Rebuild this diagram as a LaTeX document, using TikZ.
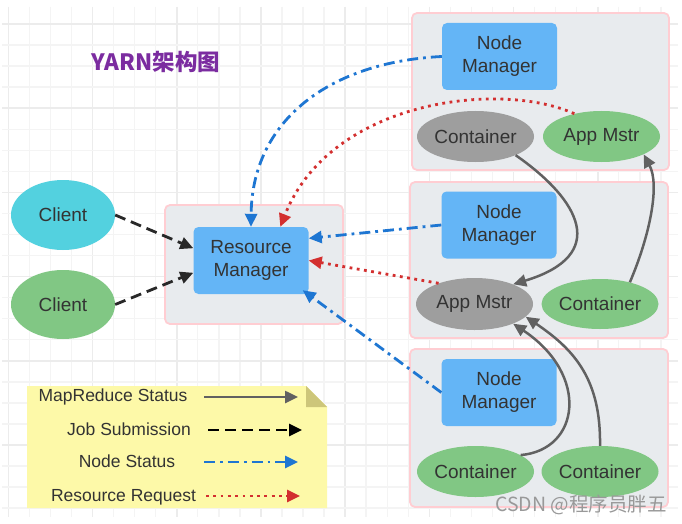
\documentclass[tikz,border=0pt]{standalone}
\usepackage{fontspec}
\setmainfont{Liberation Sans}
\newfontfamily\cjk{Noto Sans CJK SC}
\usepackage{tikz}
\usetikzlibrary{shapes.geometric, arrows.meta}

\definecolor{nmblue}{RGB}{100,181,246}
\definecolor{cyanclient}{RGB}{83,209,223}
\definecolor{greenoval}{RGB}{129,199,132}
\definecolor{grayoval}{RGB}{158,158,158}
\definecolor{grpfill}{RGB}{232,235,238}
\definecolor{grpline}{RGB}{255,205,210}
\definecolor{txt}{RGB}{51,51,51}
\definecolor{mrgray}{RGB}{97,97,97}
\definecolor{jobblack}{RGB}{40,40,40}
\definecolor{nsblue}{RGB}{30,118,210}
\definecolor{rrred}{RGB}{211,47,47}
\definecolor{noteyellow}{RGB}{253,249,168}
\definecolor{notefold}{RGB}{205,198,122}
\definecolor{titlepurple}{RGB}{123,44,160}
\definecolor{gridminor}{RGB}{244,244,244}
\definecolor{gridmajor}{RGB}{236,236,236}

\begin{document}
\begin{tikzpicture}[x=1pt, y=-1pt,
    grp/.style={draw=grpline, fill=grpfill, line width=1.8pt, rounded corners=5pt},
    mgr/.style={fill=nmblue, rounded corners=5pt, minimum width=115pt, minimum height=67pt,
      inner sep=0pt, align=center, text=txt, font=\fontsize{19}{23}\selectfont},
    oval/.style={ellipse, minimum width=117pt, minimum height=51pt, inner sep=0pt,
      text=txt, font=\fontsize{19}{23}\selectfont},
    legtext/.style={text=txt, font=\fontsize{17.5}{20}\selectfont},
    mrflow/.style={draw=mrgray, line width=2.5pt, -{Triangle[length=13pt,width=12pt]}},
    jobflow/.style={draw=jobblack, line width=2.8pt, dash pattern=on 11pt off 6pt,
      -{Triangle[length=13pt,width=12pt]}},
    nsflow/.style={draw=nsblue, line width=2.8pt, dash pattern=on 11pt off 5pt on 2.8pt off 5pt,
      -{Triangle[length=13pt,width=12pt]}},
    rrflow/.style={draw=rrred, line width=2.8pt, dash pattern=on 2.8pt off 4.5pt,
      -{Triangle[length=13pt,width=12pt]}},
  ]
    \useasboundingbox (0,0) rectangle (682,524);
    \fill[white] (0,0) rectangle (682,524);

    % background grid
    \foreach \i in {0,...,31} {
      \pgfmathtruncatemacro{\major}{mod(\i,4)==0}
      \ifnum\major=1
        \draw[gridmajor, line width=1.6pt] ({8.3+21.05*\i},7) -- ({8.3+21.05*\i},517);
      \else
        \draw[gridminor, line width=1.4pt] ({8.3+21.05*\i},7) -- ({8.3+21.05*\i},517);
      \fi
    }
    \foreach \j in {0,...,23} {
      \pgfmathtruncatemacro{\major}{mod(\j,4)==0}
      \ifnum\major=1
        \draw[gridmajor, line width=1.6pt] (2,{24+21.05*\j}) -- (678,{24+21.05*\j});
      \else
        \draw[gridminor, line width=1.4pt] (2,{24+21.05*\j}) -- (678,{24+21.05*\j});
      \fi
    }

    \node[text=titlepurple, font=\cjk\bfseries\fontsize{22.5}{26}\selectfont] (title) at (156,62) {YARN架构图};

    % groups
    \draw[grp] (165,205) rectangle (343,324);
    \draw[grp] (412,13) rectangle (669,170);
    \draw[grp] (410,182) rectangle (668,338);
    \draw[grp] (410,349) rectangle (668,507);

    \node[oval, fill=cyanclient, minimum width=104pt, minimum height=70pt] (cliA) at (63,215) {Client};
    \node[oval, fill=greenoval, minimum width=104pt, minimum height=69pt] (cliB) at (63,304.5) {Client};

    \node[mgr] (rm) at (251,260.5) {Resource\\Manager};

    \node[mgr] (nmA) at (499.5,56.5) {Node\\Manager};
    \node[oval, fill=grayoval] (ctA) at (475.5,136.5) {Container};
    \node[oval, fill=greenoval] (amA) at (601.5,136.5) {App Mstr};

    \node[mgr] (nmB) at (499,225) {Node\\Manager};
    \node[oval, fill=grayoval, minimum height=52pt] (amB) at (474.5,304) {App Mstr};
    \node[oval, fill=greenoval, minimum height=50pt] (ctB) at (600,304) {Container};

    \node[mgr] (nmC) at (499,392.5) {Node\\Manager};
    \node[oval, fill=greenoval] (ctC) at (475.5,471.5) {Container};
    \node[oval, fill=greenoval] (ctD) at (600,471.5) {Container};

    % job submission
    \draw[jobflow] (cliA.east) -- (rm.168);
    \draw[jobflow] (cliB.east) -- (rm.192);

    % node status
    \draw[nsflow] (nmA.west) .. controls (330,62) and (252,120) .. (rm.north);
    \draw[nsflow] (nmB.west) -- (rm.21);
    \draw[nsflow] (nmC.west) -- ([xshift=-6pt,yshift=4pt]rm.south east);

    % resource request
    \draw[rrflow] (amA.140) .. controls (500,80) and (330,100) .. (rm.49);
    \draw[rrflow] (amB.150) -- (rm.east);

    % mapreduce status
    \draw[mrflow] (ctA.-25) .. controls (580,200) and (610,255) .. (amB.27);
    \draw[mrflow] (ctB.36) .. controls (650,235) and (660,185) .. (amA.-23);
    \draw[mrflow] (ctC.20) .. controls (580,450) and (590,375) .. (amB.-27);
    \draw[mrflow] (ctD.north) .. controls (601,380) and (575,350) .. (amB.-14);

    % legend
    \fill[noteyellow] (27,386) -- (306,386) -- (327,407) -- (327,508) -- (27,508) -- cycle;
    \fill[notefold] (306,386) -- (327,407) -- (306,407) -- cycle;

    \node[legtext] (lgA) at (113,397) {MapReduce Status};
    \node[legtext] (lgB) at (129,429) {Job Submission};
    \node[legtext] (lgC) at (127,461) {Node Status};
    \node[legtext] (lgD) at (123.5,497) {Resource Request};

    \coordinate (lgA1) at (204,397);
    \coordinate (lgA2) at (298,397);
    \coordinate (lgB1) at (208,430);
    \coordinate (lgB2) at (302,430);
    \coordinate (lgC1) at (204,462);
    \coordinate (lgC2) at (298,462);
    \coordinate (lgD1) at (206,496);
    \coordinate (lgD2) at (300,496);
    \draw[mrflow] (lgA1) -- (lgA2);
    \draw[jobflow, draw=black] (lgB1) -- (lgB2);
    \draw[nsflow] (lgC1) -- (lgC2);
    \draw[rrflow] (lgD1) -- (lgD2);

    \node[text=black!40, font=\cjk\fontsize{19.5}{22}\selectfont] (mark) at (581,505) {CSDN @程序员胖五};
\end{tikzpicture}
\end{document}
